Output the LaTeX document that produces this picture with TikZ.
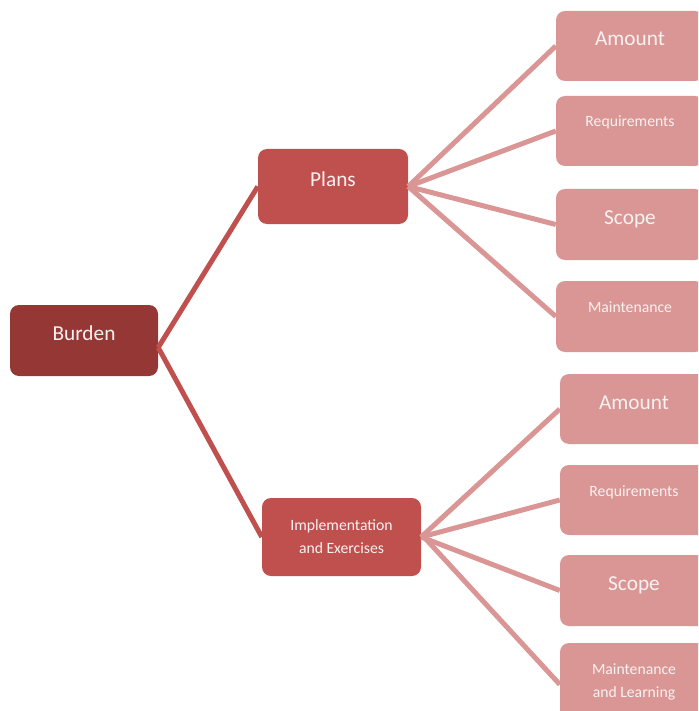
\documentclass[tikz,border=0pt]{standalone}
\usepackage{fontspec}
\setmainfont{Carlito}
\usepackage{xcolor}
\usepackage{tikz}
\usetikzlibrary{positioning}
\definecolor{darkred}{HTML}{953735}
\definecolor{midred}{HTML}{C0504D}
\definecolor{lightred}{HTML}{D99694}
\definecolor{txt}{HTML}{F7F2F2}
\tikzset{
  box/.style={rounded corners=9pt,text=txt,align=center,inner sep=0pt},
  bigtxt/.style={font=\fontsize{21.3}{25}\selectfont,text height=8pt,text depth=8pt},
  smalltxt/.style={font=\fontsize{15.7}{23}\selectfont,text height=6pt,text depth=14pt},
  twoline/.style={font=\fontsize{15.7}{23}\selectfont},
  leaf/.style={box,fill=lightred,minimum width=148pt,minimum height=70pt},
  trunk/.style={line width=5pt,midred},
  twig/.style={line width=5pt,lightred}
}

\begin{document}
\begin{tikzpicture}[x=1pt,y=-1pt]
\clip (0,0) rectangle (698,711);
% root and branches
\node[box,bigtxt,fill=darkred,minimum width=148pt,minimum height=71pt] (burden) at (84,340.5) {Burden};
\node[box,bigtxt,fill=midred,minimum width=150pt,minimum height=75pt] (plans) at (333,186.5) {Plans};
\node[box,twoline,fill=midred,minimum width=159pt,minimum height=78pt] (impl) at (341.5,537) {Implementation\\and Exercises};
% leaves of plans
\node[leaf,bigtxt] (pamount) at (630,46) {Amount};
\node[leaf,smalltxt] (preq) at (630,131) {Requirements};
\node[leaf,bigtxt,minimum height=71pt] (pscope) at (630,224.5) {Scope};
\node[leaf,smalltxt,minimum height=71pt] (pmaint) at (630,316.5) {Maintenance};
% leaves of implementation
\node[leaf,bigtxt] (iamount) at (634,409) {Amount};
\node[leaf,smalltxt] (ireq) at (634,500) {Requirements};
\node[leaf,bigtxt,minimum height=71pt] (iscope) at (634,590.5) {Scope};
\node[leaf,twoline,minimum height=77pt] (imaint) at (634,681.5) {Maintenance\\and Learning};
% connectors
\draw[trunk] ([yshift=-7pt]burden.east) -- (plans.west);
\draw[trunk] ([yshift=-7pt]burden.east) -- (impl.west);
\draw[twig] (plans.east) -- (pamount.west);
\draw[twig] (plans.east) -- (preq.west);
\draw[twig] (plans.east) -- (pscope.west);
\draw[twig] (plans.east) -- (pmaint.west);
\draw[twig] (impl.east) -- (iamount.west);
\draw[twig] (impl.east) -- (ireq.west);
\draw[twig] (impl.east) -- (iscope.west);
\draw[twig] ([yshift=3pt]impl.east) -- ([yshift=-3pt]imaint.west);
\end{tikzpicture}
\end{document}
